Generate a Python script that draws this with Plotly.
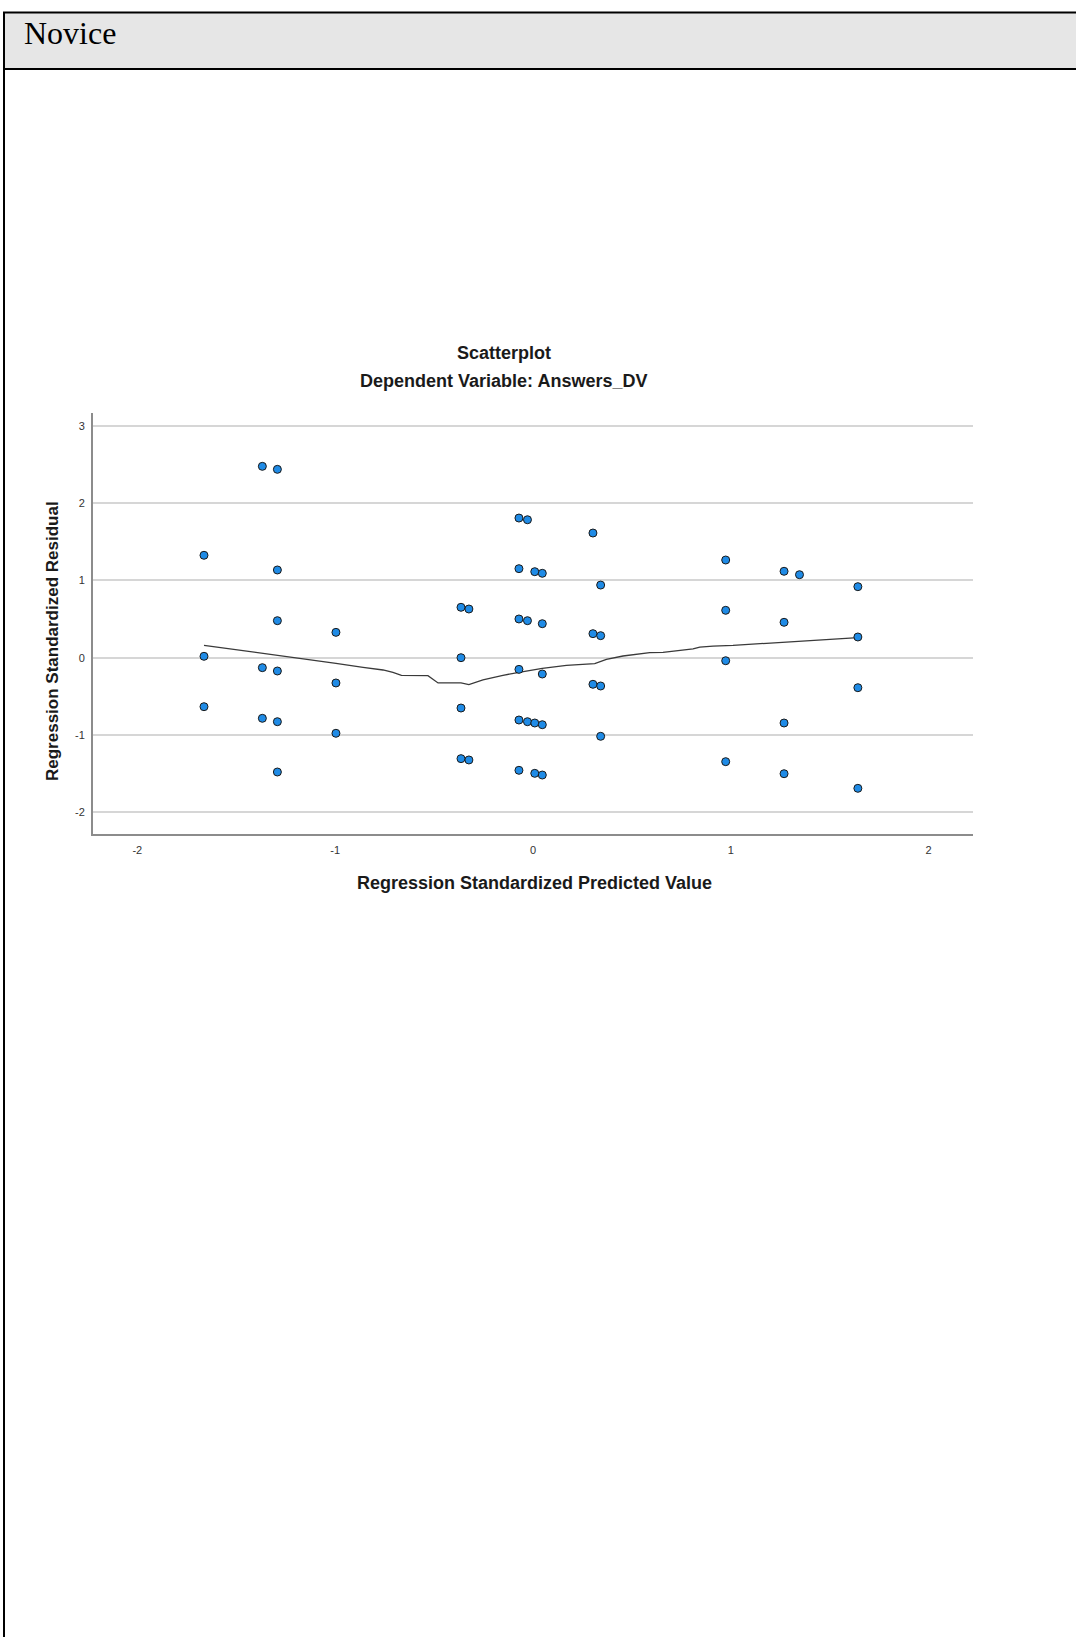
import plotly.graph_objects as go

# ---- data ----
pred_x = [-1.663, -1.663, -1.663,
          -1.368, -1.368, -1.368,
          -1.292, -1.292, -1.292, -1.292, -1.292, -1.292,
          -0.996, -0.996, -0.996,
          -0.364, -0.324, -0.364, -0.364, -0.364, -0.324,
          -0.071, -0.028, -0.071, 0.009, 0.047, -0.071, -0.028, 0.047,
          -0.071, 0.047, -0.071, -0.028, 0.009, 0.047, -0.071, 0.009, 0.047,
          0.303, 0.342, 0.303, 0.342, 0.303, 0.342, 0.342,
          0.974, 0.974, 0.974, 0.974,
          1.269, 1.347, 1.269, 1.269, 1.269,
          1.642, 1.642, 1.642, 1.642]
resid_y = [1.325, 0.018, -0.634,
           2.476, -0.129, -0.784,
           2.437, 1.135, 0.479, -0.172, -0.828, -1.479,
           0.328, -0.327, -0.978,
           0.652, 0.630, 0.000, -0.651, -1.306, -1.323,
           1.807, 1.785, 1.152, 1.113, 1.092, 0.501, 0.479, 0.440,
           -0.151, -0.211, -0.806, -0.828, -0.845, -0.867, -1.457, -1.496, -1.518,
           1.613, 0.940, 0.311, 0.285, -0.344, -0.366, -1.017,
           1.264, 0.613, -0.039, -1.345,
           1.118, 1.074, 0.458, -0.845, -1.501,
           0.919, 0.268, -0.388, -1.690]

loess_x = [-1.663, -1.292, -0.996, -0.859, -0.809, -0.758, -0.708, -0.665,
           -0.531, -0.506, -0.480, -0.364, -0.324, -0.253, -0.152, -0.071,
           0.047, 0.169, 0.312, 0.371, 0.455, 0.590, 0.657, 0.809, 0.843,
           0.910, 1.011, 1.180, 1.348, 1.642]
loess_y = [0.160, 0.035, -0.073, -0.125, -0.138, -0.159, -0.190, -0.228,
           -0.233, -0.280, -0.327, -0.327, -0.349, -0.288, -0.228, -0.190,
           -0.138, -0.099, -0.077, -0.021, 0.022, 0.065, 0.070, 0.113, 0.138,
           0.151, 0.160, 0.186, 0.216, 0.259]

x_ticks = [-2, -1, 0, 1, 2]
y_ticks = [-2, -1, 0, 1, 2, 3]

header_text = "Novice"
title_text = "Scatterplot"
subtitle_text = "Dependent Variable: Answers_DV"
x_title = "Regression Standardized Predicted Value"
y_title = "Regression Standardized Residual"

# ---- layout geometry (pixels) ----
W, H = 1076, 1637
L, R, T, B = 93, 103, 413, 803
PW = W - L - R
PH = H - T - B


def px(xp):
    return (xp - L) / PW


def py(yp):
    return (H - B - yp) / PH


fig = go.Figure()

fig.add_trace(go.Scatter(
    x=loess_x, y=loess_y, mode="lines",
    line=dict(color="#3a3a3a", width=1.3),
    hoverinfo="skip", showlegend=False,
))
fig.add_trace(go.Scatter(
    x=pred_x, y=resid_y, mode="markers",
    marker=dict(size=8, color="#1f8be6", line=dict(color="#1a1a1a", width=1)),
    showlegend=False,
))

shapes = [
    # header box
    dict(type="rect", xref="paper", yref="paper",
         x0=px(4), x1=px(1090), y0=py(69), y1=py(12.5),
         fillcolor="#e6e6e6", line=dict(color="black", width=2), layer="below"),
    # left page border
    dict(type="line", xref="paper", yref="paper",
         x0=px(4), x1=px(4), y0=py(12.5), y1=py(1650),
         line=dict(color="black", width=2)),
]

annotations = [
    dict(text=header_text, xref="paper", yref="paper", x=px(22), y=py(33),
         xanchor="left", yanchor="middle", showarrow=False,
         font=dict(family="Liberation Serif, Times New Roman, serif", size=32, color="black")),
    dict(text="<b>" + title_text + "</b>", xref="paper", yref="paper", x=px(504), y=py(353),
         xanchor="center", yanchor="middle", showarrow=False,
         font=dict(family="Liberation Sans, Arial, sans-serif", size=18, color="#1a1a1a")),
    dict(text="<b>" + subtitle_text + "</b>", xref="paper", yref="paper", x=px(503), y=py(381),
         xanchor="center", yanchor="middle", showarrow=False,
         font=dict(family="Liberation Sans, Arial, sans-serif", size=18, color="#1a1a1a")),
    dict(text="<b>" + x_title + "</b>", xref="paper", yref="paper", x=px(534), y=py(883),
         xanchor="center", yanchor="middle", showarrow=False,
         font=dict(family="Liberation Sans, Arial, sans-serif", size=18, color="#1a1a1a")),
    dict(text="<b>" + y_title + "</b>", xref="paper", yref="paper", x=px(52), y=py(641),
         xanchor="center", yanchor="middle", showarrow=False, textangle=-90,
         font=dict(family="Liberation Sans, Arial, sans-serif", size=17, color="#1a1a1a")),
]

fig.update_layout(
    width=W, height=H,
    margin=dict(l=L, r=R, t=T, b=B, pad=0),
    paper_bgcolor="white", plot_bgcolor="white",
    shapes=shapes, annotations=annotations,
    showlegend=False,
)
fig.update_xaxes(
    range=[-2.224, 2.224], tickvals=x_ticks, ticktext=[str(v) for v in x_ticks],
    showgrid=False, zeroline=False, showline=True, linecolor="#8c8c8c", linewidth=2,
    ticks="", ticklabelstandoff=5,
    tickfont=dict(family="Liberation Sans, Arial, sans-serif", size=11, color="#333333"),
)
fig.update_yaxes(
    range=[-2.281, 3.166], tickvals=y_ticks, ticktext=[str(v) for v in y_ticks],
    showgrid=True, gridcolor="#d6d6d6", gridwidth=2,
    zeroline=False, showline=True, linecolor="#8c8c8c", linewidth=2,
    ticks="", ticklabelstandoff=4,
    tickfont=dict(family="Liberation Sans, Arial, sans-serif", size=11, color="#333333"),
)

fig.write_html("out.html", config={"displayModeBar": False},
               post_script="document.body.style.margin='0';document.body.style.overflow='hidden';")
